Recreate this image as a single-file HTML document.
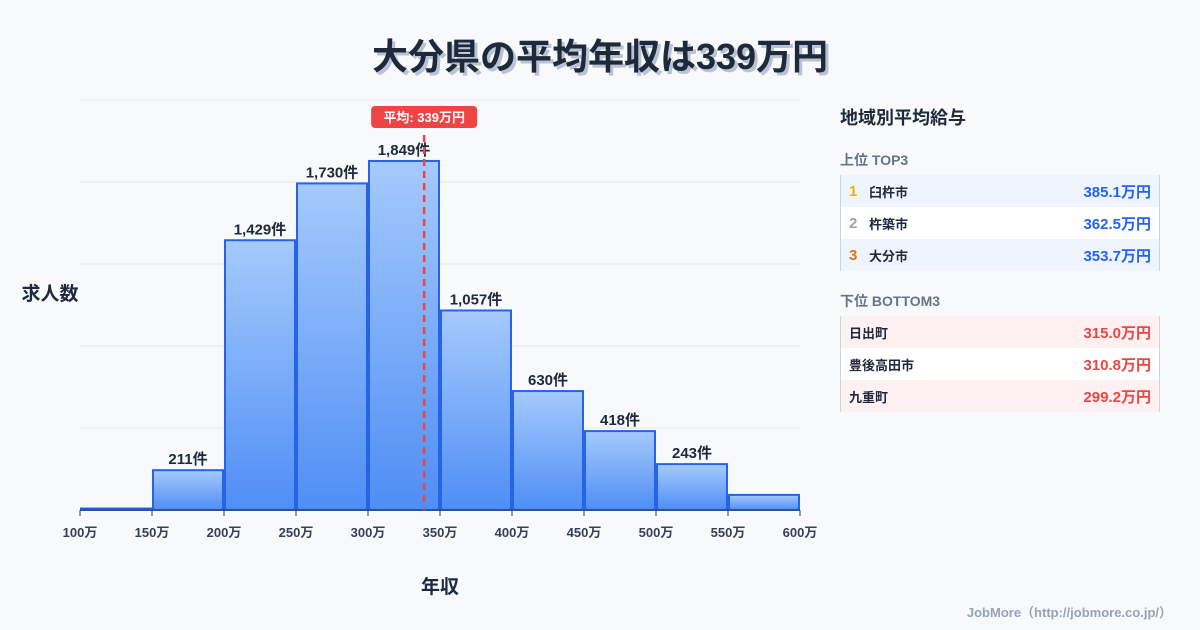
<!DOCTYPE html>
<html><head><meta charset="utf-8">
<style>
body{margin:0;width:1200px;height:630px;background:#f8f9fb;font-family:"Liberation Sans","Noto Sans CJK JP",sans-serif;overflow:hidden;position:relative}
.title{position:absolute;left:0;width:1200px;top:28px;text-align:center;font-size:36px;font-weight:bold;color:#1e293b;text-shadow:3px 3px 0 #b9c3d3}
.panel{position:absolute;left:840px;width:320px}
.ph{font-size:18px;font-weight:bold;color:#1e293b}
.sub{font-size:14px;font-weight:bold;color:#64748b}
.row{height:32px;display:flex;align-items:center;font-size:13px;font-weight:bold;color:#1e293b;box-sizing:border-box;border-left:1px solid #cbd5e1;border-right:1px solid #cbd5e1;padding:0 8px}
.row .v{margin-left:auto;font-size:15px}
.rk{width:20px;font-size:15px}
</style></head><body>
<div class="title">大分県の平均年収は339万円</div>
<svg id="chart" width="830" height="630" style="position:absolute;left:0;top:0">
<defs><linearGradient id="g" x1="0" y1="0" x2="0" y2="1"><stop offset="0" stop-color="#a5cafc"/><stop offset="1" stop-color="#4f8ef5"/></linearGradient></defs>
</svg>
<div class="panel" style="top:104px"><div class="ph">地域別平均給与</div></div>
<div class="panel sub" style="top:150px">上位 TOP3</div>
<div class="panel" style="top:175px">
<div class="row" style="background:#eef5ff"><span class="rk" style="color:#eab308">1</span>臼杵市<span class="v" style="color:#2563eb">385.1万円</span></div>
<div class="row" style="background:#fff"><span class="rk" style="color:#9ca3af">2</span>杵築市<span class="v" style="color:#2563eb">362.5万円</span></div>
<div class="row" style="background:#eef5ff"><span class="rk" style="color:#d97706">3</span>大分市<span class="v" style="color:#2563eb">353.7万円</span></div>
</div>
<div class="panel sub" style="top:291px">下位 BOTTOM3</div>
<div class="panel" style="top:316px">
<div class="row" style="background:#fff1f1">日出町<span class="v" style="color:#ef4444">315.0万円</span></div>
<div class="row" style="background:#fff">豊後高田市<span class="v" style="color:#ef4444">310.8万円</span></div>
<div class="row" style="background:#fff1f1">九重町<span class="v" style="color:#ef4444">299.2万円</span></div>
</div>
<div style="position:absolute;right:28px;top:602px;font-size:13px;font-weight:bold;color:#94a3b8">JobMore（http://jobmore.co.jp/）</div>
<script>
const binStarts=[100,150,200,250,300,350,400,450,500,550];
const counts=[8,211,1429,1730,1849,1057,630,418,243,80];
const showLabel=[false,true,true,true,true,true,true,true,true,false];
const xTicks=[100,150,200,250,300,350,400,450,500,550,600];
const meanValue=339;
const yMax=2172;
const svg=document.getElementById('chart');
const NS='http://www.w3.org/2000/svg';
const X=v=>80+(v-100)*720/500;
const Y=v=>510-v*410/yMax;
function mk(t,a,txt){const e=document.createElementNS(NS,t);for(const k in a)e.setAttribute(k,a[k]);if(txt!==undefined)e.textContent=txt;svg.appendChild(e);return e;}
for(let i=0;i<=5;i++){const g=mk('line',{x1:80,x2:800,y1:Y(yMax*i/5),y2:Y(yMax*i/5),stroke:'#e2e8f0','stroke-width':1});

}
binStarts.forEach((b,i)=>{
const x0=X(b)+1,x1=X(b+50)-1,y=Y(counts[i]);
const r=mk('rect',{x:x0,y:y,width:x1-x0,height:510-y,fill:'url(#g)',stroke:'#2563eb','stroke-width':2});


if(showLabel[i]){const t=mk('text',{x:(x0+x1)/2,y:y-6,'text-anchor':'middle','font-size':15,'font-weight':'bold',fill:'#1e293b'},counts[i].toLocaleString('en-US')+'件');

}
});
const ax=mk('line',{x1:80,x2:800,y1:510,y2:510,stroke:'#334155','stroke-width':1});


xTicks.forEach(v=>{const l=mk('line',{x1:X(v),x2:X(v),y1:510,y2:516,stroke:'#334155'});


const t=mk('text',{x:X(v),y:537,'text-anchor':'middle','font-size':13,'font-weight':'bold',fill:'#334155'},v+'万');

});
const mx=X(meanValue);
const ml=mk('line',{x1:mx,x2:mx,y1:135,y2:510,stroke:'#ef4444','stroke-width':2.5,'stroke-dasharray':'7,5'});


const mb=mk('rect',{x:mx-53,y:106,width:106,height:22,rx:4,fill:'#ef4444'});


const mt=mk('text',{x:mx,y:122,'text-anchor':'middle','font-size':13,'font-weight':'bold',fill:'#fff'},'平均: '+meanValue+'万円');


const yt=mk('text',{x:50,y:300,'text-anchor':'middle','font-size':19,'font-weight':'bold',fill:'#1e293b'},'求人数');


const xt=mk('text',{x:440,y:593,'text-anchor':'middle','font-size':19,'font-weight':'bold',fill:'#1e293b'},'年収');


</script>
</body></html>
